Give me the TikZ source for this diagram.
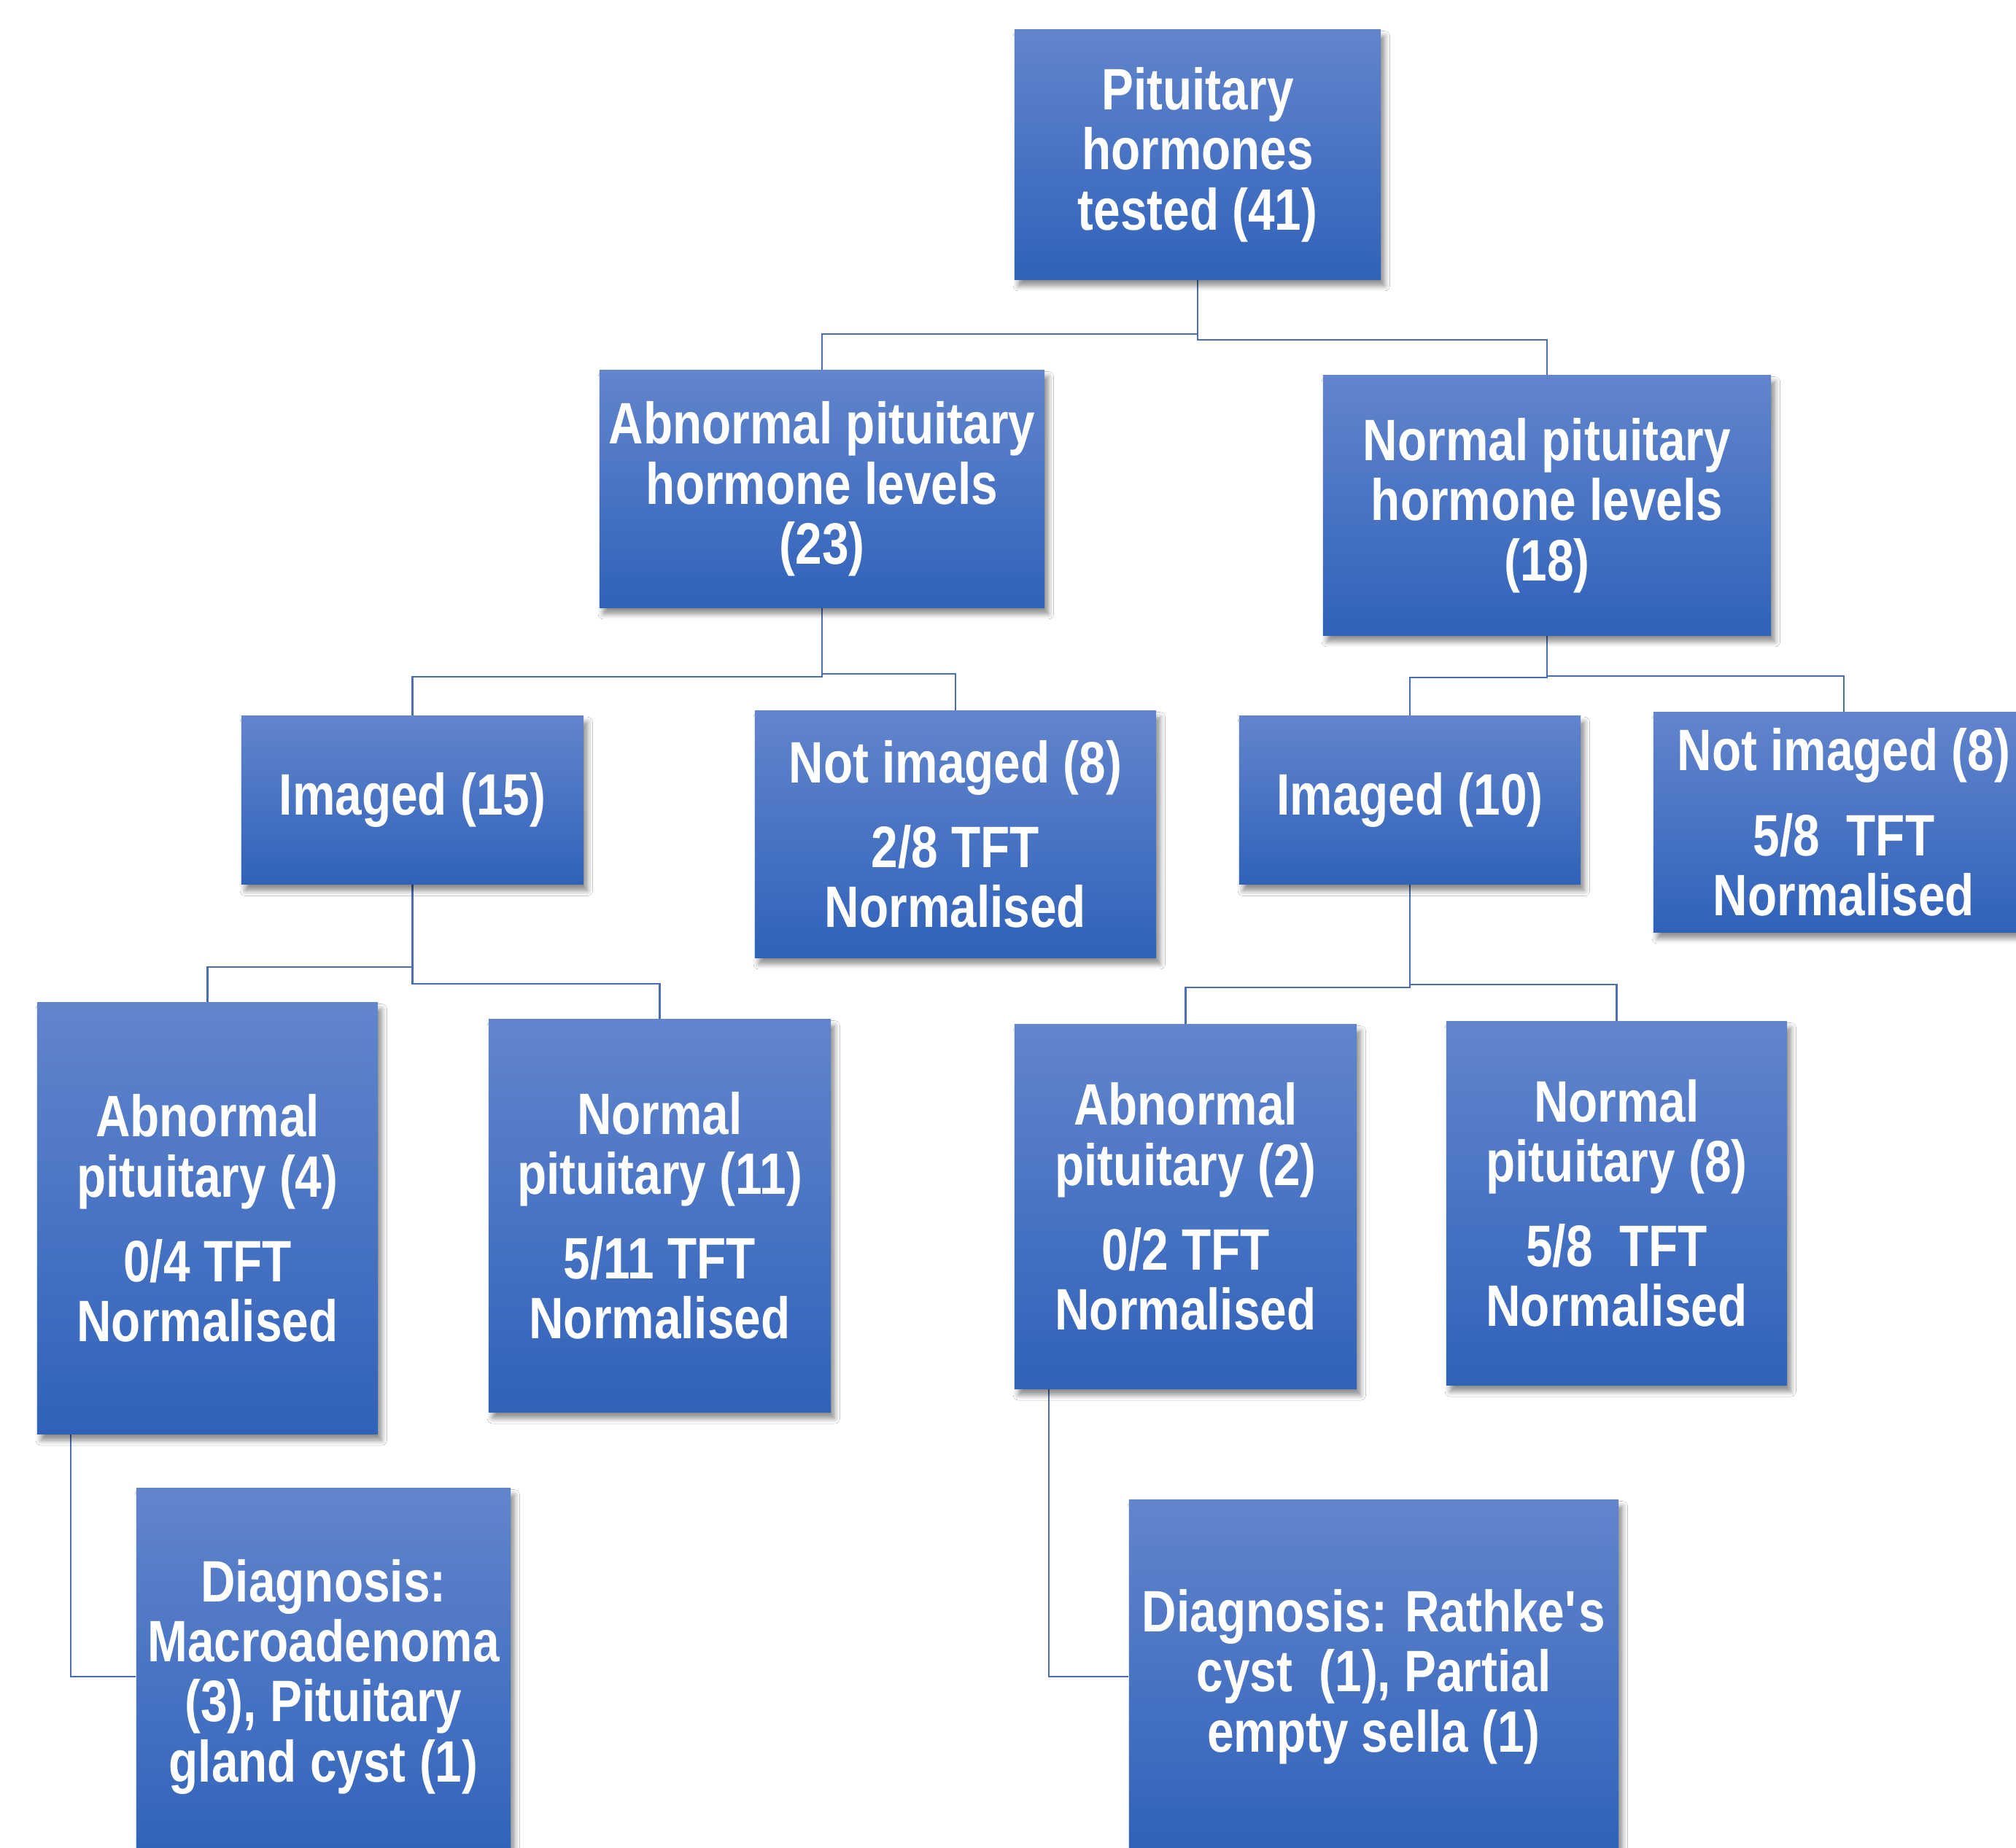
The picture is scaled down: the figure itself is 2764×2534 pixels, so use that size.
\documentclass[tikz,border=0pt]{standalone}
\usepackage{fontspec}
\newfontfamily\boxfont{Liberation Sans}[FakeStretch=0.82]
\usetikzlibrary{shadows.blur}
\definecolor{boxtop}{HTML}{6285CC}
\definecolor{boxbot}{HTML}{3062BA}
\definecolor{conncol}{HTML}{4A6EB5}
\pgfdeclarelayer{bg}
\pgfsetlayers{bg,main}
\tikzset{
  box/.style={rectangle, inner sep=0pt, text=white, align=center,
    font=\boxfont\bfseries\fontsize{22.8}{23.4}\selectfont,
    top color=boxtop, bottom color=boxbot,
    blur shadow={shadow xshift=1.5pt, shadow yshift=-2.5pt, shadow blur steps=6, shadow opacity=45, shadow blur radius=2pt}},
  conn/.style={draw=conncol, line width=0.8pt},
}
\newcommand{\pgap}{\\[9.6pt]}
\begin{document}
\begin{tikzpicture}[x=0.01cm, y=-0.01cm]
\useasboundingbox (0,0) rectangle (2764,2534);
\clip (0,0) rectangle (2764,2534);

\node[box, minimum width=5.02cm, minimum height=3.42cm] (top) at (1642,212) {Pituitary\\hormones\\tested (41)};
\node[box, minimum width=6.10cm, minimum height=3.25cm] (abn) at (1127,670.5) {Abnormal pituitary\\hormone levels\\(23)};
\node[box, minimum width=6.14cm, minimum height=3.56cm] (nor) at (2121,693) {Normal pituitary\\hormone levels\\(18)};

\node[box, minimum width=4.69cm, minimum height=2.31cm] (img15) at (565.5,1097) {Imaged (15)};
\node[box, minimum width=5.50cm, minimum height=3.38cm] (notL) at (1310,1144) {Not imaged (8)\pgap 2/8 TFT\\Normalised};
\node[box, minimum width=4.68cm, minimum height=2.31cm] (img10) at (1933,1097) {Imaged (10)};
\node[box, minimum width=5.22cm, minimum height=3.01cm] (notR) at (2528,1127.5) {Not imaged (8)\pgap 5/8\ \ TFT\\Normalised};

\node[box, minimum width=4.67cm, minimum height=5.91cm] (abn4) at (284.5,1670.5) {Abnormal\\pituitary (4)\pgap 0/4 TFT\\Normalised};
\node[box, minimum width=4.69cm, minimum height=5.38cm] (nor11) at (904.5,1667) {Normal\\pituitary (11)\pgap 5/11 TFT\\Normalised};
\node[box, minimum width=4.69cm, minimum height=4.99cm] (abn2) at (1625.5,1654.5) {Abnormal\\pituitary (2)\pgap 0/2 TFT\\Normalised};
\node[box, minimum width=4.67cm, minimum height=4.98cm] (nor8) at (2216.5,1650) {Normal\\pituitary (8)\pgap 5/8\ \ TFT\\Normalised};

\node[box, minimum width=5.13cm, minimum height=5.16cm] (diagL) at (443.5,2299) {Diagnosis:\\Macroadenoma\\(3), Pituitary\\gland cyst (1)};
\node[box, minimum width=6.71cm, minimum height=4.84cm] (diagR) at (1883.5,2299) {Diagnosis: Rathke\textquotesingle s\\cyst\ \ (1), Partial\\empty sella (1)};

\begin{pgfonlayer}{bg}
\fill[white] (0,0) rectangle (2764,2534);
\draw[conn] (top.south) -- (top.south |- 0,458) -| (abn.north);
\draw[conn] (top.south) -- (top.south |- 0,466) -| (nor.north);
\draw[conn] (abn.south) -- (abn.south |- 0,928) -| (img15.north);
\draw[conn] (abn.south) -- (abn.south |- 0,924) -| (notL.north);
\draw[conn] (nor.south) -- (nor.south |- 0,929) -| (img10.north);
\draw[conn] (nor.south) -- (nor.south |- 0,927) -| (notR.north);
\draw[conn] (img15.south) -- (img15.south |- 0,1326) -| (abn4.north);
\draw[conn] (img15.south) -- (img15.south |- 0,1349) -| (nor11.north);
\draw[conn] (img10.south) -- (img10.south |- 0,1354) -| (abn2.north);
\draw[conn] (img10.south) -- (img10.south |- 0,1350) -| (nor8.north);
\draw[conn] (97,0 |- abn4.south) |- (diagL.west);
\draw[conn] (1438,0 |- abn2.south) |- (diagR.west);
\end{pgfonlayer}
\end{tikzpicture}
\end{document}
